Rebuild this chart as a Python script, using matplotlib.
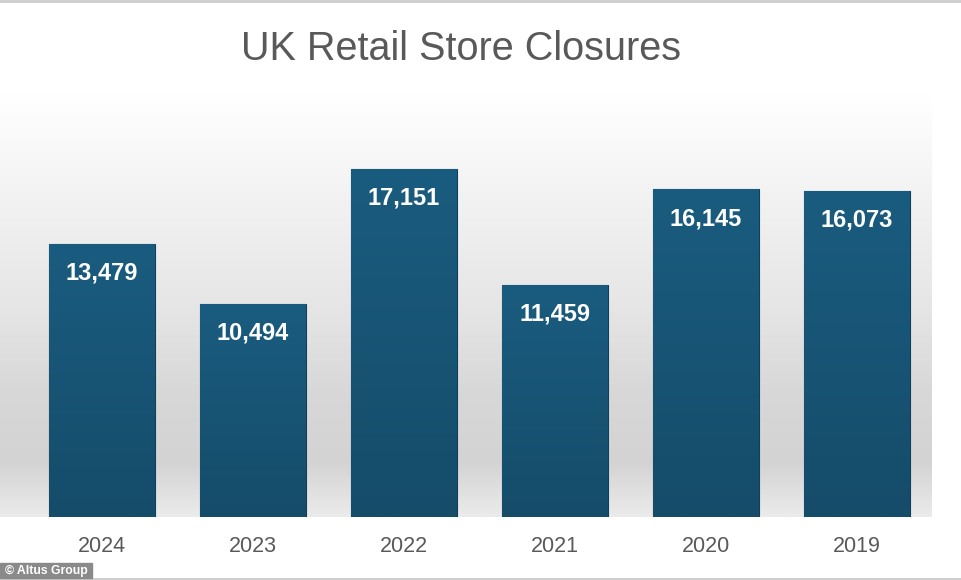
import numpy as np
import matplotlib.pyplot as plt
from matplotlib.colors import LinearSegmentedColormap
from matplotlib.lines import Line2D
from matplotlib.patches import Rectangle

# data
years = ['2024', '2023', '2022', '2021', '2020', '2019']
closures = [13479, 10494, 17151, 11459, 16145, 16073]

title = 'UK Retail Store Closures'
source = '\u00a9 Altus Group'

fig = plt.figure(figsize=(9.62, 5.8), dpi=100)
fig.patch.set_facecolor('white')

grad = np.linspace(0, 1, 256).reshape(-1, 1)

# grey backdrop gradient, runs from the left edge to the right end of the plot
bg_ax = fig.add_axes([0, 63 / 580, 932 / 962, 422 / 580], zorder=0)
bg = LinearSegmentedColormap.from_list('bg', [
    (0.0, '#ebebeb'), (0.13, '#d3d3d3'), (0.3, '#d8d8d8'),
    (0.5, '#e6e6e6'), (0.75, '#f2f2f2'), (1.0, '#ffffff')])
bg_ax.imshow(grad, cmap=bg, aspect='auto', origin='lower', extent=[0, 1, 0, 1])
bg_ax.axis('off')

ax = fig.add_axes([26.5 / 962, 63 / 580, 906 / 962, 422 / 580], zorder=1)
ax.patch.set_visible(False)
x = np.arange(len(years))
ax.set_xlim(-0.5, len(years) - 0.5)
ax.set_ylim(0, 20800)

bars = ax.bar(x, closures, width=0.7, color='#175779',
              edgecolor='#0f3f5a', linewidth=0.8, zorder=2)

# darker towards the bottom of each bar
bar_cmap = LinearSegmentedColormap.from_list('bar', ['#154c6a', '#1a5c7f'])
for b in bars:
    bx, by = b.get_x(), b.get_y()
    im = ax.imshow(grad, cmap=bar_cmap, aspect='auto', origin='lower',
                   extent=[bx, bx + b.get_width(), by, by + b.get_height()],
                   zorder=2.5)
    im.set_clip_path(b)

for xi, v in zip(x, closures):
    ax.annotate(f'{v:,}', (xi, v), xytext=(0, -21), textcoords='offset points',
                ha='center', va='center', color='white', fontsize=17,
                fontweight='bold', family=['Liberation Sans', 'DejaVu Sans'],
                zorder=4)

ax.set_xticks(x)
ax.set_xticklabels(years, fontsize=15.5, color='#595959',
                   family=['Liberation Sans', 'DejaVu Sans'])
ax.tick_params(axis='x', length=0, pad=14)
ax.set_yticks([])
for s in ax.spines.values():
    s.set_visible(False)

fig.text(461 / 962, 1 - 49 / 580, title, ha='center', va='center',
         fontsize=28.5, color='#595959',
         family=['Liberation Sans', 'DejaVu Sans'])

# thin frame lines top and bottom
fig.add_artist(Line2D([0, 1], [0.998, 0.998], color='#cccccc', lw=2,
                      transform=fig.transFigure))
fig.add_artist(Line2D([0, 1], [0.002, 0.002], color='#cccccc', lw=2,
                      transform=fig.transFigure))

# source badge
fig.add_artist(Rectangle((0, 2 / 580), 92 / 962, 15 / 580, color='#8a8a8a',
                         transform=fig.transFigure, zorder=5))
fig.text(5 / 962, 9.5 / 580, source, ha='left', va='center', color='white',
         fontsize=8.8, fontweight='bold', zorder=6,
         family=['Liberation Sans', 'DejaVu Sans'])

fig.savefig('out.png', dpi=100)
